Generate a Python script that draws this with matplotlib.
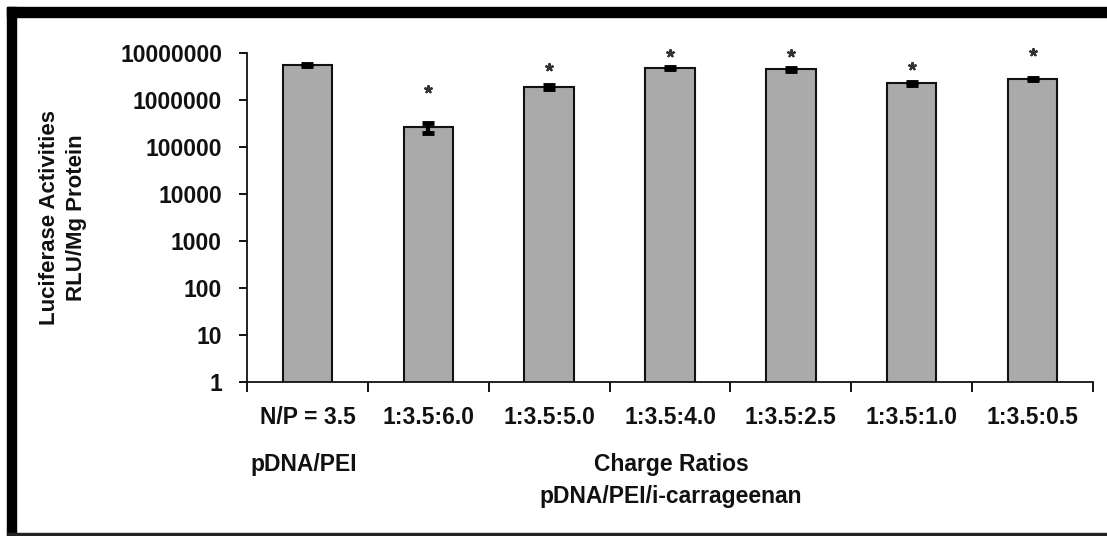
import matplotlib
matplotlib.use("Agg")
import matplotlib.pyplot as plt
from matplotlib.patches import Rectangle
import numpy as np

categories = ["N/P = 3.5", "1:3.5:6.0", "1:3.5:5.0", "1:3.5:4.0",
              "1:3.5:2.5", "1:3.5:1.0", "1:3.5:0.5"]
values = [5.6e6, 2.6e5, 1.9e6, 4.8e6, 4.5e6, 2.25e6, 2.8e6]
errors = [3.0e5, 6.5e4, 1.6e5, 3.0e5, 4.0e5, 2.0e5, 1.8e5]
star_levels = [None, 1.7e6, 5.1e6, 1.0e7, 1.0e7, 5.2e6, 1.05e7]
yticks = [1, 10, 100, 1000, 10000, 100000, 1000000, 10000000]

W, H = 1107, 536
fig = plt.figure(figsize=(W / 100, H / 100), dpi=100)
plt.rcParams['font.family'] = ['Liberation Sans', 'DejaVu Sans']
FS = 16.5
TC = "#111111"

ax = fig.add_axes([247 / W, 1 - 382 / H, (1093 - 247) / W, (382 - 53) / H])
x = np.arange(len(categories))
ax.bar(x, values, width=0.41, color="#aaaaaa", edgecolor="#111111",
       linewidth=1.5, zorder=2)
ax.errorbar(x, values, yerr=errors, fmt="none", ecolor="black",
            elinewidth=3, capsize=4.5, capthick=3.5, zorder=3)
for xi, s in zip(x, star_levels):
    if s is not None:
        ax.plot(xi, s, marker=(5, 2, 0), markersize=6, mew=1.5,
                color="#333333", zorder=4, clip_on=False)

ax.set_yscale("log")
ax.set_ylim(1, 1e7)
ax.set_xlim(-0.5, len(categories) - 0.5)
ax.set_yticks(yticks)
ax.set_yticklabels([str(v) for v in yticks], fontsize=FS, fontweight="bold",
                   color=TC)
ax.yaxis.set_minor_locator(matplotlib.ticker.NullLocator())
ax.tick_params(axis="y", which="major", length=6, width=1.3, pad=12,
               direction="out")

ax.set_xticks(np.arange(len(categories) + 1) - 0.5)
ax.set_xticklabels([])
ax.set_xticks(x, minor=True)
ax.set_xticklabels(categories, minor=True, fontsize=FS, fontweight="bold",
                   color=TC)
ax.tick_params(axis="x", which="major", length=7, width=1.3, direction="out")
ax.tick_params(axis="x", which="minor", length=0, pad=17)

for side in ["top", "right"]:
    ax.spines[side].set_visible(False)
for side in ["left", "bottom"]:
    ax.spines[side].set_linewidth(1.3)
    ax.spines[side].set_color("#111111")

ax.set_ylabel("Luciferase Activities\nRLU/Mg Protein", fontsize=16,
              fontweight="bold", color=TC, linespacing=1.35)
ax.yaxis.set_label_coords(-160 / (1093 - 247), 0.5)

fig.text(304 / W, 1 - 465 / H, "pDNA/PEI", ha="center", va="center",
         fontsize=FS, fontweight="bold", color=TC)
fig.text(671 / W, 1 - 465 / H, "Charge Ratios", ha="center", va="center",
         fontsize=FS, fontweight="bold", color=TC)
fig.text(671 / W, 1 - 496 / H, "pDNA/PEI/i-carrageenan", ha="center",
         va="center", fontsize=FS, fontweight="bold", color=TC)

# frame
fig.patches.append(Rectangle((7 / W, 1 - 17 / H), 1 - 7 / W, 10 / H,
                             transform=fig.transFigure, color="black"))
fig.patches.append(Rectangle((7 / W, 1 - 535 / H), 9 / W, (535 - 7) / H,
                             transform=fig.transFigure, color="black"))
fig.patches.append(Rectangle((7 / W, 1 - 535 / H), 1 - 7 / W, 2 / H,
                             transform=fig.transFigure, color="#222222"))

fig.savefig("out.png", dpi=100)
